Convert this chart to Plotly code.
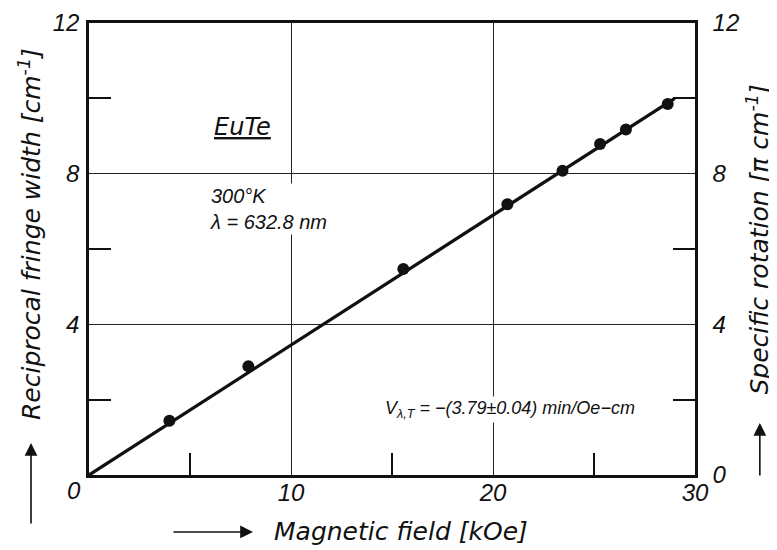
import plotly.graph_objects as go

# Measured data (magnetic field in kOe, reciprocal fringe width in cm^-1)
field_kOe = [3.98, 7.89, 15.56, 20.71, 23.44, 25.30, 26.58, 28.65]
recip_width = [1.44, 2.89, 5.47, 7.19, 8.08, 8.79, 9.17, 9.85]

# Fitted straight line (end points)
fit_x = [0.0, 29.0]
fit_y = [0.0, 10.0]

x_ticks = [10, 20, 30]
y_ticks = [4, 8, 12]
y2_ticks = [0, 4, 8, 12]
x_minor = [5, 15, 25]
y_minor = [2, 6, 10]

FONT = "Liberation Sans"
TFONT = "DejaVu Sans"
BLACK = "#111111"

fig = go.Figure()
fig.add_trace(go.Scatter(x=fit_x, y=fit_y, mode="lines",
                         line=dict(color=BLACK, width=3.3), showlegend=False,
                         hoverinfo="skip"))
fig.add_trace(go.Scatter(x=field_kOe, y=recip_width, mode="markers",
                         marker=dict(color=BLACK, size=12), showlegend=False))
# invisible trace to attach the right-hand axis
fig.add_trace(go.Scatter(x=field_kOe, y=recip_width, mode="markers", yaxis="y2",
                         marker=dict(opacity=0), showlegend=False, hoverinfo="skip"))

tickfont = dict(family=FONT, size=24, color=BLACK, style="italic")
axis_common = dict(showline=True, linecolor=BLACK, linewidth=2.5,
                   showgrid=True, gridcolor="#222222", gridwidth=1.3,
                   zeroline=False, ticks="", tickfont=tickfont, automargin=False)

fig.update_layout(
    width=769, height=542,
    margin=dict(l=81, r=82, t=15, b=75),
    paper_bgcolor="white", plot_bgcolor="white",
    font=dict(family=FONT, color=BLACK, style="italic"),
    xaxis=dict(range=[0, 30], tickvals=x_ticks, ticktext=[str(v) for v in x_ticks],
               mirror=True, ticklabelstandoff=-6,
               minor=dict(tickvals=x_minor, ticks="inside", ticklen=22,
                          tickwidth=1.8, tickcolor=BLACK, showgrid=False),
               **axis_common),
    yaxis=dict(range=[0, 12], tickvals=y_ticks, ticktext=[str(v) for v in y_ticks],
               mirror=True, ticklabelstandoff=2,
               minor=dict(tickvals=y_minor, ticks="inside", ticklen=22,
                          tickwidth=1.8, tickcolor=BLACK, showgrid=False),
               **axis_common),
    yaxis2=dict(range=[0, 12], tickvals=y2_ticks, ticktext=[str(v) for v in y2_ticks],
                overlaying="y", side="right", anchor="x", automargin=False,
                showline=True, linecolor=BLACK, linewidth=2.5, showgrid=False,
                zeroline=False, ticks="", tickfont=tickfont, ticklabelstandoff=10,
                minor=dict(tickvals=y_minor, ticks="inside", ticklen=22,
                           tickwidth=1.8, tickcolor=BLACK, showgrid=False)),
)

title_font = dict(family=TFONT, size=25, color=BLACK, style="italic")
text_font = dict(family=FONT, size=20, color=BLACK, style="italic")
v_font = dict(family=FONT, size=18, color=BLACK, style="italic")

center = dict(xanchor="center", yanchor="middle", showarrow=False)
arrow = dict(text="", showarrow=True, arrowhead=2, arrowsize=1.6,
             arrowwidth=1.6, arrowcolor=BLACK, xref="paper", yref="paper")

annotations = [
    # shared origin label
    dict(text="0", xref="paper", yref="paper", x=-0.025, y=-0.034,
         font=tickfont, **center),
    # axis titles
    dict(text="Reciprocal fringe width [cm<sup>-1</sup>]", xref="paper", yref="paper",
         x=-0.0974, y=0.533, textangle=-90, font=title_font, **center),
    dict(text="Specific rotation [π cm<sup>-1</sup>]", xref="paper", yref="paper",
         x=1.105, y=0.52, textangle=-90, font=title_font, **center),
    dict(text="Magnetic field [kOe]", xref="paper", yref="paper",
         x=0.515, y=-0.124, font=title_font, **center),
    # direction arrows
    dict(x=-0.0957, y=0.0708, ax=0, ay=82, **arrow),
    dict(x=0.2706, y=-0.126, ax=-81, ay=0, **arrow),
    dict(x=1.107, y=0.115, ax=0, ay=54, **arrow),
    # in-plot labels
    dict(text="<u>EuTe</u>", xref="x", yref="y", x=7.62, y=9.24,
         font=dict(family=TFONT, size=24, color=BLACK, style="italic"), **center),
    dict(text="300°K<br>λ = 632.8 nm", xref="x", yref="y", x=5.9, y=7.06,
         xanchor="left", yanchor="middle", align="left", showarrow=False,
         bgcolor="white", borderpad=1, font=text_font),
    dict(text="V<sub>λ,T</sub> = −(3.79±0.04) min/Oe−cm", xref="x", yref="y",
         x=14.55, y=1.75, xanchor="left", yanchor="middle", showarrow=False,
         bgcolor="white", borderpad=1, font=v_font),
]
fig.update_layout(annotations=annotations)

fig.write_html("out.html")
